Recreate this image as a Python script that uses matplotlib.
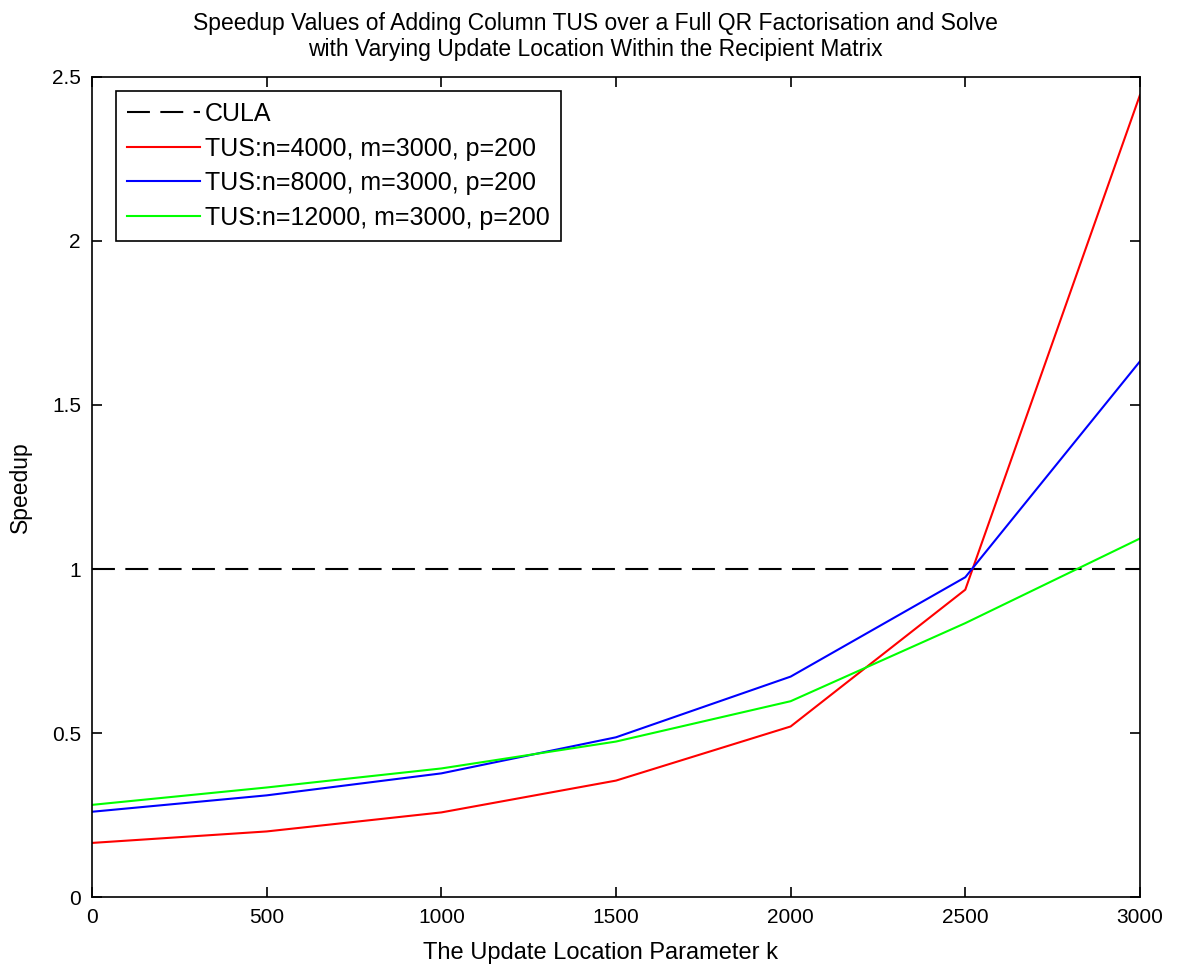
import numpy as np
import matplotlib.pyplot as plt

plt.rcParams['font.family'] = ['Liberation Sans', 'DejaVu Sans']

# update location parameter k and speedups
k = [0, 500, 1000, 1500, 2000, 2500, 3000]
tus_4000 = [0.165, 0.200, 0.258, 0.355, 0.520, 0.937, 2.445]
tus_8000 = [0.260, 0.310, 0.377, 0.487, 0.672, 0.975, 1.633]
tus_12000 = [0.281, 0.334, 0.392, 0.474, 0.597, 0.835, 1.093]
cula = [1.0, 1.0]
cula_k = [0, 3000]

fig = plt.figure(figsize=(11.84, 9.68), dpi=100)
ax = fig.add_axes([0.0777, 0.0733, 0.8851, 0.8472])

ax.plot(cula_k, cula, color='black', lw=1.5, dashes=(11, 5), label='CULA')
ax.plot(k, tus_4000, color='#ff0000', lw=1.5, label='TUS:n=4000, m=3000, p=200')
ax.plot(k, tus_8000, color='#0000ff', lw=1.5, label='TUS:n=8000, m=3000, p=200')
ax.plot(k, tus_12000, color='#00ff00', lw=1.5, label='TUS:n=12000, m=3000, p=200')

ax.set_xlim(0, 3000)
ax.set_ylim(0, 2.5)
ax.set_xticks(np.arange(0, 3001, 500))
ax.set_yticks([0, 0.5, 1, 1.5, 2, 2.5])
ax.set_yticklabels(['0', '0.5', '1', '1.5', '2', '2.5'])
ax.tick_params(direction='in', top=True, right=True, length=7, width=1.2,
               labelsize=15, pad=8)
for s in ax.spines.values():
    s.set_linewidth(1.2)

ax.set_xlabel('The Update Location Parameter k', fontsize=17, va='center')
ax.xaxis.set_label_coords(0.485, -0.068)
ax.set_ylabel('Speedup', fontsize=16.5, labelpad=14)
ax.set_title('Speedup Values of Adding Column TUS over a Full QR Factorisation and Solve\n'
             'with Varying Update Location Within the Recipient Matrix',
             fontsize=16.5, pad=15, x=0.48)

leg = ax.legend(loc='upper left', bbox_to_anchor=(24 / 1048, 1 - 14 / 820),
                borderaxespad=0, fontsize=18, fancybox=False, edgecolor='black',
                framealpha=1, handlelength=2.9, handletextpad=0.2,
                labelspacing=0.42, borderpad=0.45)
leg.get_frame().set_linewidth(1.2)

fig.savefig('out.png', dpi=100)
